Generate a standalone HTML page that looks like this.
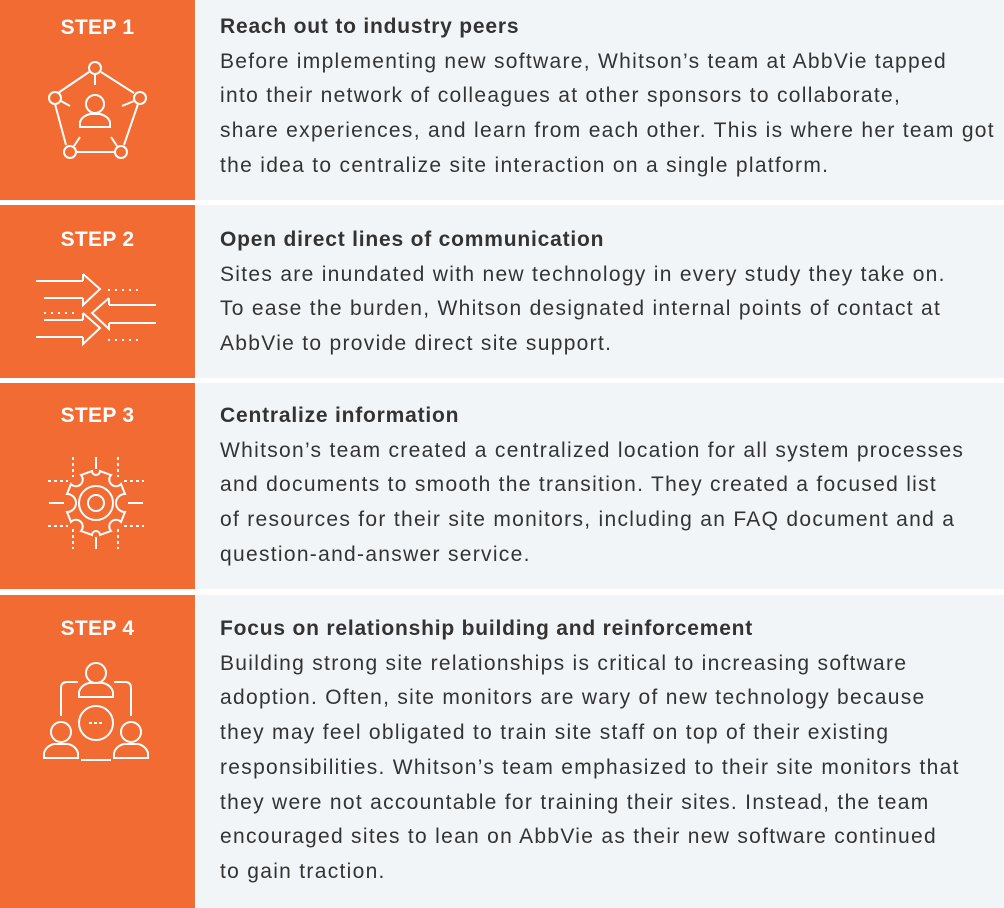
<!DOCTYPE html>
<html><head><meta charset="utf-8"><style>
body{margin:0;width:1004px;height:908px;background:#fff;position:relative;overflow:hidden;font-family:"Liberation Sans",Arial,sans-serif}
.l{position:absolute;left:0;width:195px;background:#f26b33}
.r{position:absolute;left:196px;width:808px;background:#f1f5f8}
.step{position:absolute;left:0;width:195px;text-align:center;color:#fff;font-weight:bold;font-size:21px;line-height:24px;letter-spacing:0.3px}
.t{position:absolute;left:220px;color:#333;font-size:21px;line-height:34.7px;white-space:nowrap;letter-spacing:1.3px}
.t b{display:block;font-size:21px;letter-spacing:0.8px}
svg{position:absolute}
</style></head><body>
<div class="l" style="top:0;height:200px"></div><div class="r" style="top:0;height:200px"></div>
<div class="l" style="top:205px;height:173px"></div><div class="r" style="top:205px;height:173px"></div>
<div class="l" style="top:383px;height:206px"></div><div class="r" style="top:383px;height:206px"></div>
<div class="l" style="top:595px;height:313px"></div><div class="r" style="top:595px;height:313px"></div>

<div class="step" style="top:16px">STEP 1</div>
<div class="step" style="top:228px">STEP 2</div>
<div class="step" style="top:404px">STEP 3</div>
<div class="step" style="top:617px">STEP 4</div>

<svg width="195" height="908" style="left:0;top:0" fill="none" stroke="#fff" stroke-width="2">
<!-- icon1 -->
<polyline points="89,72 58,93"/><polyline points="101,72 134,93"/><polyline points="138,104 124,145"/><polyline points="115,152 77,152"/><polyline points="66,145 55,104"/>
<circle cx="95" cy="68" r="6"/><circle cx="140" cy="98" r="6"/><circle cx="121" cy="152" r="6"/><circle cx="70" cy="152" r="6"/><circle cx="55" cy="98" r="6"/>
<line x1="95" y1="74" x2="95" y2="85"/><line x1="61" y1="101" x2="70" y2="106"/><line x1="134" y1="101" x2="122" y2="106"/><line x1="74" y1="146" x2="80" y2="137"/><line x1="117" y1="146" x2="111" y2="137"/>
<circle cx="95" cy="104" r="9"/><path d="M80,127 v-5 q2,-6 10,-8 h10 q8,2 10,8 v5 z"/>
<!-- icon2 -->
<path d="M36,281 h47 M44,298 h39 M83,274 l17,15 l-17,16 v-7 M83,281 v-7"/>
<path d="M156,305 h-47 M156,323 h-47 M109,298 l-17,15 l17,16 v-6 M109,305 v-7"/>
<path d="M44,320 h39 M36,337 h47 M83,313 l17,15 l-17,16 v-7 M83,320 v-7"/>
<path d="M108,290 h32 M44,313 h32 M108,340 h32" stroke-dasharray="2 5"/>
<!-- icon3 -->
<circle cx="96" cy="503" r="17"/><circle cx="96" cy="503" r="8"/>
<path d="M92,471 a4,4 0 0 0 8,0 l11,4 a4,4 0 0 0 10,9 l4,10 a4,4 0 0 0 0,18 l-4,10 a4,4 0 0 0 -10,9 l-11,4 a4,4 0 0 0 -8,0 l-11,-4 a4,4 0 0 0 -10,-9 l-4,-10 a4,4 0 0 0 0,-18 l4,-10 a4,4 0 0 0 10,-9 z"/>
<path d="M96,457 v12 M96,537 v12 M49,503 h15 M128,503 h15"/>
<path d="M73,457 v20 M118,457 v20 M73,529 v20 M118,529 v20 M48,481 h20 M124,481 h20 M48,526 h20 M124,526 h20" stroke-dasharray="3 3"/>
<!-- icon4 -->
<circle cx="96" cy="673" r="10"/><path d="M79,697 v-5 q2,-7 10,-9 h14 q8,2 10,9 v5 z"/>
<circle cx="61" cy="732" r="10"/><path d="M44,758 v-5 q2,-7 10,-9 h14 q8,2 10,9 v5 z"/>
<circle cx="131" cy="732" r="10"/><path d="M114,758 v-5 q2,-7 10,-9 h14 q8,2 10,9 v5 z"/>
<circle cx="96" cy="723" r="17"/><path d="M89,723 h14" stroke-dasharray="3 2"/>
<path d="M78,682 h-11 q-6,0 -6,6 v28 M114,682 h11 q6,0 6,6 v28 M81,760 h30"/>
</svg>

<div class="t" style="top:10px"><b>Reach out to industry peers</b>Before implementing new software, Whitson’s team at AbbVie tapped<br>into their network of colleagues at other sponsors to collaborate,<br>share experiences, and learn from each other. This is where her team got<br>the idea to centralize site interaction on a single platform.</div>
<div class="t" style="top:223px"><b>Open direct lines of communication</b>Sites are inundated with new technology in every study they take on.<br>To ease the burden, Whitson designated internal points of contact at<br>AbbVie to provide direct site support.</div>
<div class="t" style="top:399px"><b>Centralize information</b>Whitson’s team created a centralized location for all system processes<br>and documents to smooth the transition. They created a focused list<br>of resources for their site monitors, including an FAQ document and a<br>question-and-answer service.</div>
<div class="t" style="top:612px"><b>Focus on relationship building and reinforcement</b>Building strong site relationships is critical to increasing software<br>adoption. Often, site monitors are wary of new technology because<br>they may feel obligated to train site staff on top of their existing<br>responsibilities. Whitson’s team emphasized to their site monitors that<br>they were not accountable for training their sites. Instead, the team<br>encouraged sites to lean on AbbVie as their new software continued<br>to gain traction.</div>
</body></html>
